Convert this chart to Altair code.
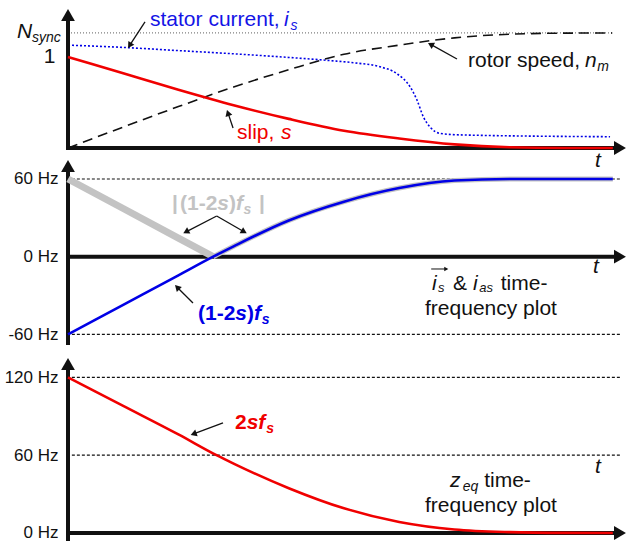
import math
import altair as alt
import pandas as pd

# ---------------- values ----------------
# time in arbitrary units (0 = start-up, ~100 = end of the time axis)
slip_t = [0, 10, 20, 30, 40, 50, 60, 70, 80, 90, 98.7]
slip_s = [1.00, 0.82, 0.64, 0.47, 0.32, 0.19, 0.105, 0.04, 0.008, 0.0, 0.0]

speed_t = [0, 10, 20, 30, 40, 50, 60, 70, 80, 90, 98.6]
speed_nm = [0.0, 0.23, 0.455, 0.67, 0.86, 1.03, 1.13, 1.21, 1.25, 1.262, 1.264]

stator_t = [0, 10, 20, 30, 40, 47.5, 52, 56.5, 59.5, 62, 63.2, 64.4, 65.6, 67.4, 71.6, 98.2]
stator_is = [1.13, 1.105, 1.07, 1.035, 0.995, 0.96, 0.935, 0.893, 0.82, 0.67, 0.53,
             0.34, 0.23, 0.16, 0.143, 0.124]

N_SYNC = 1.264
T_END = 98.6

freq_t = [0, 10, 20, 26.3, 30, 40, 50, 60, 70, 80, 90, 98.7]
freq_hz = [-60, -37.2, -14.4, 0, 8, 28, 42.5, 53, 58.8, 60, 60, 60]

zeq_t = [0, 10, 20, 26.9, 30, 40, 50, 60, 70, 80, 90, 98.7]
zeq_hz = [120, 98, 76, 60, 53.5, 34.5, 19, 8.5, 2.7, 0.7, 0.1, 0]

p1_ticks = [1]
p2_ticks = [-60, 0, 60]
p3_ticks = [0, 60, 120]

# ---------------- styling / layout ----------------
FONT = "Liberation Sans"
BLACK = "#111111"
RED = "#f00000"
BLUE = "#0000e6"
TXT_BLUE = "#1414e6"
GRAY = "#c3c3c3"

XD = [0, 101.27]
W = 559
KX = W / (XD[1] - XD[0])


def make_axis(values, expr, size, pad):
    return alt.Axis(values=values, labelExpr=expr, labelFontSize=size, labelPadding=pad,
                    labelFont=FONT, labelColor=BLACK, domain=False, ticks=False, grid=False,
                    title=None, minExtent=68, maxExtent=68, labelOverlap=False)


class Panel:
    def __init__(self, height, domain, axis):
        self.h = height
        self.dom = domain
        self.ky = height / (domain[1] - domain[0])
        self.axis = axis
        self.layers = []

    def _enc(self, ch, two=False):
        kw = dict(
            x=alt.X("t:Q", scale=alt.Scale(domain=XD, nice=False, zero=False), axis=None),
            y=alt.Y("v:Q", scale=alt.Scale(domain=self.dom, nice=False, zero=False), axis=self.axis),
        )
        if two:
            kw.update(x2="t2:Q", y2="v2:Q")
        return ch.encode(**kw)

    def line(self, ts, vs, **mk):
        df = pd.DataFrame({"t": ts, "v": vs})
        self.layers.append(self._enc(alt.Chart(df).mark_line(**mk)))

    def seg(self, t0, v0, t1, v1, **mk):
        df = pd.DataFrame({"t": [t0], "v": [v0], "t2": [t1], "v2": [v1]})
        self.layers.append(self._enc(alt.Chart(df).mark_rule(**mk), two=True))

    def head(self, t, v, shape, size, angle=0, color=BLACK):
        df = pd.DataFrame({"t": [t], "v": [v]})
        self.layers.append(self._enc(alt.Chart(df).mark_point(
            shape=shape, size=size, angle=angle, filled=True, opacity=1,
            color=color, strokeWidth=0)))

    def text(self, t, v, s, size=21, color=BLACK, italic=False, bold=False, align="left"):
        df = pd.DataFrame({"t": [t], "v": [v], "txt": [s]})
        mk = dict(font=FONT, fontSize=size, color=color, align=align, baseline="alphabetic",
                  fontStyle="italic" if italic else "normal",
                  fontWeight="bold" if bold else "normal")
        self.layers.append(self._enc(alt.Chart(df).mark_text(**mk)).encode(text="txt:N"))

    def arrow(self, t0, v0, t1, v1, size=50, width=1.3):
        dx = (t1 - t0) * KX
        dy = -(v1 - v0) * self.ky
        L = math.hypot(dx, dy)
        ux, uy = dx / L, dy / L
        ang = round(math.degrees(math.atan2(ux, -uy)) % 360, 1)
        h = math.sqrt(3) / 4 * math.sqrt(size)
        tc = t1 - h * ux / KX
        vc = v1 + h * uy / self.ky
        self.seg(t0, v0, tc, vc, color=BLACK, strokeWidth=width)
        self.head(tc, vc, "triangle-up", size, angle=ang)

    def axes(self, vbottom, vtop_rule, vtop_head):
        self.seg(0, vbottom, 0, vtop_rule, color=BLACK, strokeWidth=4)
        self.head(0, vtop_head, "triangle-up", 190)
        self.seg(-0.36, 0, 99.2, 0, color=BLACK, strokeWidth=4)
        self.head(100, 0, "triangle-right", 190)

    def chart(self):
        return alt.layer(*self.layers).properties(width=W, height=self.h)


# ---------------- panel 1 ----------------
p1 = Panel(150, [-0.022, 1.626], make_axis(p1_ticks, "'1'", 21, 13))
p1.seg(0, N_SYNC, T_END, N_SYNC, color="#808080", strokeDash=[1, 2], strokeWidth=1.2)
p1.line(stator_t, stator_is, color=BLUE, strokeDash=[2, 2], strokeWidth=1.6, interpolate="monotone")
p1.line(speed_t, speed_nm, color=BLACK, strokeDash=[10, 6], strokeWidth=1.6, interpolate="monotone")
p1.axes(-0.022, 1.42, 1.4615)
p1.line(slip_t, slip_s, color=RED, strokeWidth=2.6, interpolate="monotone")
p1.text(-9.24, 1.209, "N", italic=True)
p1.text(-6.52, 1.165, "sync", size=14, italic=True)
p1.text(14.86, 1.341, "stator current,", color=TXT_BLUE)
p1.text(39.13, 1.341, "i", color=TXT_BLUE, italic=True)
p1.text(40.3, 1.297, "s", size=14, color=TXT_BLUE, italic=True)
p1.arrow(13.95, 1.385, 10.87, 1.099)
p1.text(72.46, 0.890, "rotor speed,")
p1.text(93.66, 0.890, "n", italic=True)
p1.text(95.9, 0.846, "m", size=14, italic=True)
p1.arrow(70.47, 0.978, 65.22, 1.154)
p1.text(30.62, 0.099, "slip,", color=RED)
p1.text(38.59, 0.099, "s", color=RED, italic=True)
p1.arrow(29.9, 0.22, 28.8, 0.418)

# ---------------- panel 2 ----------------
p2 = Panel(193, [-68.2, 80.85], make_axis(p2_ticks, "datum.value + ' Hz'", 17, 10))
p2.seg(0.7, 60, 100, 60, color=BLACK, strokeDash=[3, 2], strokeWidth=1.2)
p2.seg(0.7, -60, 100, -60, color=BLACK, strokeDash=[3, 2], strokeWidth=1.2)
p2.axes(-68.2, 67, 70.0)
p2.line(freq_t[:4], [abs(v) for v in freq_hz[:4]], color=GRAY, strokeWidth=7)
p2.line(freq_t[3:], [abs(v) for v in freq_hz[3:]], color=GRAY, strokeWidth=5, interpolate="monotone")
p2.line(freq_t, freq_hz, color=BLUE, strokeWidth=2.6, interpolate="monotone")
p2.text(95.47, 69.3, "t", italic=True)
# |(1-2s)f_s|
p2.text(18.84, 36.06, "|", color=GRAY, bold=True)
p2.text(20.29, 36.06, "(1-2", color=GRAY, bold=True)
p2.text(27.05, 36.06, "s", color=GRAY, bold=True, italic=True)
p2.text(29.17, 36.06, ")", color=GRAY, bold=True)
p2.text(30.43, 36.06, "f", color=GRAY, bold=True, italic=True)
p2.text(31.8, 32.97, "s", size=14, color=GRAY, bold=True, italic=True)
p2.text(34.6, 36.06, "|", color=GRAY, bold=True)
p2.arrow(26.94, 31.4, 20.89, 18.07)
p2.arrow(26.94, 31.4, 32.37, 18.07)
# (1-2s)f_s
p2.text(23.55, -48.88, "(1-2", color=BLUE, bold=True)
p2.text(30.31, -48.88, "s", color=BLUE, bold=True, italic=True)
p2.text(32.43, -48.88, ")", color=BLUE, bold=True)
p2.text(33.70, -48.88, "f", color=BLUE, bold=True, italic=True)
p2.text(35.1, -51.97, "s", size=14, color=BLUE, bold=True, italic=True)
p2.arrow(22.64, -35.8, 19.38, -21.9)
p2.text(95.11, -12.59, "t", italic=True)
p2.text(65.94, -25.71, "i", italic=True)
p2.arrow(65.8, -9.5, 68.9, -9.5, size=22, width=1)
p2.text(67.05, -27.4, "s", size=13, italic=True)
p2.text(69.75, -25.71, "&")
p2.text(73.37, -25.71, "i", italic=True)
p2.text(74.5, -27.4, "as", size=13, italic=True)
p2.text(78.4, -25.71, "time-")
p2.text(76.63, -45.4, "frequency plot", align="center")

# ---------------- panel 3 ----------------
p3 = Panel(194, [-6.17, 143.35], make_axis(p3_ticks, "datum.value + ' Hz'", 17, 10))
p3.seg(0.7, 120, 100, 120, color=BLACK, strokeDash=[3, 2], strokeWidth=1.2)
p3.seg(0.7, 60, 100, 60, color=BLACK, strokeDash=[3, 2], strokeWidth=1.2)
p3.axes(-6.17, 127, 130.2)
p3.line(zeq_t, zeq_hz, color=RED, strokeWidth=2.6, interpolate="monotone")
p3.text(30.25, 80.15, "2", color=RED, bold=True)
p3.text(32.37, 80.15, "sf", color=RED, bold=True, italic=True)
p3.text(35.9, 77.07, "s", size=14, color=RED, bold=True, italic=True)
p3.arrow(28.08, 84.8, 22.23, 75.5)
p3.text(95.47, 46.24, "t", italic=True)
p3.text(69.2, 35.45, "z", italic=True)
p3.text(71.5, 32.37, "eq", size=14, italic=True)
p3.text(75.4, 35.45, "time-")
p3.text(76.63, 16.18, "frequency plot", align="center")

chart = (
    alt.vconcat(p1.chart(), p2.chart(), p3.chart(), spacing=2, bounds="flush")
    .properties(padding=0, background="white")
    .configure_view(stroke=None)
)

chart.save("out.html", embed_options={"renderer": "svg", "actions": False})
